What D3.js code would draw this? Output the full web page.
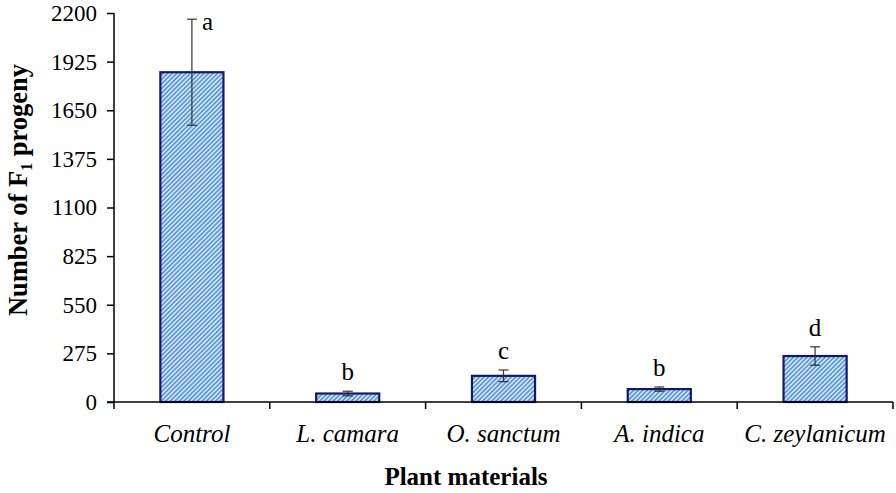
<!DOCTYPE html>
<html>
<head>
<meta charset="utf-8">
<script src="https://cdn.jsdelivr.net/npm/d3@7"></script>
<style>
  html, body { margin: 0; padding: 0; background: #fff; }
  svg { display: block; }
</style>
</head>
<body>
<svg id="chart" width="896" height="493"></svg>
<script>
const categories = ["Control", "L. camara", "O. sanctum", "A. indica", "C. zeylanicum"];
const means = [1865, 48, 148, 73, 260];
const errors = [300, 13, 33, 12, 52];
const letters = ["a", "b", "c", "b", "d"];
const yTicks = [0, 275, 550, 825, 1100, 1375, 1650, 1925, 2200];

const svg = d3.select("#chart");
const margin = { left: 114, right: 3, top: 13, bottom: 91 };
const W = 896, H = 493;
const x = d3.scaleBand().domain(categories).range([margin.left, W - margin.right]).padding(0);
const y = d3.scaleLinear().domain([0, 2200]).range([H - margin.bottom, margin.top]);

const defs = svg.append("defs");
const pat = defs.append("pattern")
  .attr("id", "hatch").attr("patternUnits", "userSpaceOnUse")
  .attr("width", 3.2).attr("height", 3.2)
  .attr("patternTransform", "rotate(45)");
pat.append("rect").attr("width", 3.2).attr("height", 3.2).attr("fill", "#d6e6f6");
pat.append("rect").attr("width", 1.7).attr("height", 3.2).attr("fill", "#5b9bd5");

const serif = "'Liberation Serif', 'Times New Roman', serif";
const barW = x.bandwidth() * 0.405;

// Bars
svg.append("g").selectAll("rect").data(categories).join("rect")
  .attr("x", d => x(d) + x.bandwidth() / 2 - barW / 2)
  .attr("y", (d, i) => y(means[i]))
  .attr("width", barW)
  .attr("height", (d, i) => y(0) - y(means[i]))
  .attr("fill", "url(#hatch)")
  .attr("stroke", "#16166e")
  .attr("stroke-width", 2.2);

// Error bars
const eg = svg.append("g").attr("stroke", "#333").attr("stroke-width", 1.2);
categories.forEach((c, i) => {
  const cx = x(c) + x.bandwidth() / 2;
  const yt = y(means[i] + errors[i]), yb = y(means[i] - errors[i]);
  eg.append("line").attr("x1", cx).attr("x2", cx).attr("y1", yt).attr("y2", yb);
  eg.append("line").attr("x1", cx - 5).attr("x2", cx + 5).attr("y1", yt).attr("y2", yt);
  eg.append("line").attr("x1", cx - 5).attr("x2", cx + 5).attr("y1", yb).attr("y2", yb);
});

// Significance letters
svg.append("g").selectAll("text").data(categories).join("text")
  .attr("x", (d, i) => x(d) + x.bandwidth() / 2 + (i === 0 ? 10 : 0))
  .attr("y", (d, i) => i === 0 ? y(means[i] + errors[i]) + 11 : y(means[i] + errors[i]) - 11)
  .attr("text-anchor", (d, i) => i === 0 ? "start" : "middle")
  .attr("font-family", serif).attr("font-size", 25).attr("fill", "#000")
  .text((d, i) => letters[i]);

// Y axis
const yAxis = svg.append("g").attr("transform", `translate(${margin.left},0)`)
  .call(d3.axisLeft(y).tickValues(yTicks).tickSize(7).tickPadding(10).tickFormat(d3.format("d")));
yAxis.select(".domain").attr("stroke", "#000").attr("stroke-width", 1.5).attr("d", `M0,${y(0) + 7}V${margin.top}`);
yAxis.selectAll(".tick line").attr("stroke", "#000").attr("stroke-width", 1.5);
yAxis.selectAll(".tick text").attr("font-family", serif).attr("font-size", 23).attr("fill", "#000");

// X axis: labels centred in bands, tick marks at band boundaries
const xAxis = svg.append("g").attr("transform", `translate(0,${y(0)})`)
  .call(d3.axisBottom(x).tickSize(0).tickPadding(22));
xAxis.select(".domain").attr("stroke", "#000").attr("stroke-width", 1.5).attr("d", `M${margin.left - 7},0H${W - margin.right}`);
xAxis.selectAll(".tick text").attr("font-family", serif).attr("font-size", 25)
  .attr("font-style", "italic").attr("fill", "#000");
svg.append("g").selectAll("line").data(categories).join("line")
  .attr("x1", d => x(d) + x.bandwidth()).attr("x2", d => x(d) + x.bandwidth())
  .attr("y1", y(0)).attr("y2", y(0) + 7)
  .attr("stroke", "#000").attr("stroke-width", 1.5);

// Axis titles
svg.append("text")
  .attr("x", 466).attr("y", 485)
  .attr("text-anchor", "middle").attr("font-family", serif).attr("font-weight", "bold")
  .attr("font-size", 25).text("Plant materials");

const yt = svg.append("text")
  .attr("transform", `translate(27,190) rotate(-90)`)
  .attr("text-anchor", "middle").attr("font-family", serif).attr("font-weight", "bold")
  .attr("font-size", 26.5);
yt.append("tspan").text("Number of F");
yt.append("tspan").attr("font-size", 16).attr("dy", 5).text("1");
yt.append("tspan").attr("dy", -5).text(" progeny");
</script>
</body>
</html>
